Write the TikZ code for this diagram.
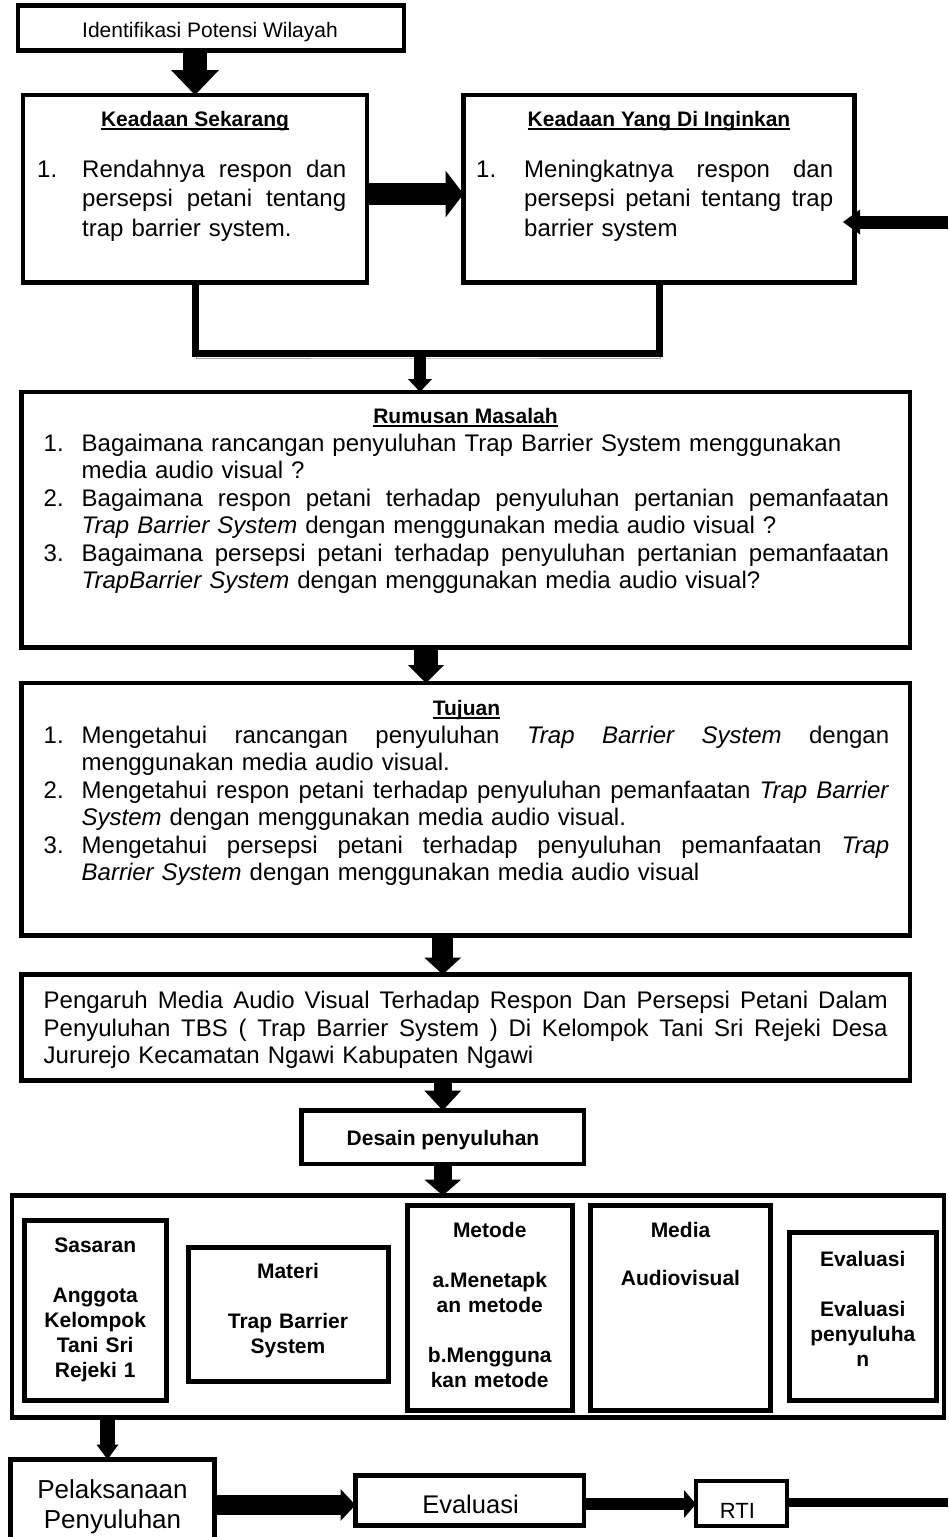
\documentclass[tikz,border=0pt]{standalone}
\usepackage{fontspec}
\setmainfont{Liberation Sans}
\usetikzlibrary{arrows.meta, positioning, calc}

\newsavebox\judulbox
\newcommand{\garisbawah}[1]{\sbox\judulbox{#1}\rlap{\rule[-3.2pt]{\wd\judulbox}{1.6pt}}\usebox\judulbox}
\newlength\numw
\newlength\lebar
% baris rata kiri-kanan (spasi antar kata diregangkan)
\newcommand{\regang}[1]{\makebox[\lebar][s]{\spaceskip=\fontdimen2\font plus 1fil\relax #1}}
\newcommand{\barisnj}[2]{\makebox[\numw][l]{#1}\regang{#2}}
\newcommand{\barisnn}[2]{\makebox[\numw][l]{#1}#2}
\newcommand{\barisj}[1]{\hspace*{\numw}\regang{#1}}
\newcommand{\barisc}[1]{\hspace*{\numw}#1}

\tikzset{
  kotak/.style = {draw, line width=4.5pt, inner sep=0pt, outer sep=0pt},
  isi/.style = {inner sep=0pt, anchor=base west, align=left, font=\fontsize{24}{27.5}\selectfont},
  kepala/.style = {inner sep=0pt, anchor=base, font=\fontsize{21}{25}\selectfont\bfseries},
  kecil/.style = {inner sep=0pt, anchor=base, align=center, text width=140pt, font=\fontsize{21}{25}\selectfont\bfseries},
  panah/.style n args = {3}{line width=#1, -{Triangle[width=#2, length=#3, line width=0pt]}},
  siku/.style = {line width=7pt, line join=miter,
    preaction={draw=black!35, transform canvas={shift={(1.5pt,-4.5pt)}}}}
}

\begin{document}
\begin{tikzpicture}[x=1pt, y=-1pt]
  \useasboundingbox (0,0) rectangle (948,1537);

  % Identifikasi dan keadaan
  \node (ident) [kotak, minimum width=386pt, minimum height=45pt] at (211,28) {};
  \node (ident-t) [inner sep=0pt, anchor=base, font=\fontsize{21}{25}\selectfont] at (210,37) {Identifikasi Potensi Wilayah};

  \node (now) [kotak, minimum width=344pt, minimum height=187.5pt] at (195,188.75) {};
  \node (now-j) [kepala] at (195,126.7) {\garisbawah{Keadaan Sekarang}};
  \node (now-isi) [isi, text width=309pt, font=\fontsize{24}{29.5}\selectfont] at (37,177) {\setlength\numw{45pt}\setlength\lebar{264pt}%
    \barisnj{1.}{Rendahnya respon dan}\\
    \barisj{persepsi petani tentang}\\
    \barisc{trap barrier system.}};

  \node (want) [kotak, minimum width=391pt, minimum height=187.5pt] at (659,188.75) {};
  \node (want-j) [kepala] at (659,126.7) {\garisbawah{Keadaan Yang Di Inginkan}};
  \node (want-isi) [isi, text width=357pt, font=\fontsize{24}{29.5}\selectfont] at (476,177) {\setlength\numw{48pt}\setlength\lebar{309pt}%
    \barisnj{1.}{Meningkatnya respon dan}\\
    \barisj{persepsi petani tentang trap}\\
    \barisc{barrier system}};

  % Rumusan masalah
  \node (rum) [kotak, minimum width=888.5pt, minimum height=255.5pt] at (465.75,519.75) {};
  \node (rum-j) [kepala] at (465.5,423.3) {\garisbawah{Rumusan Masalah}};
  \node (rum-isi) [isi, text width=845.5pt] at (43.5,451) {\setlength\numw{38pt}\setlength\lebar{807.5pt}%
    \barisnn{1.}{Bagaimana rancangan penyuluhan Trap Barrier System menggunakan}\\
    \barisc{media audio visual ?}\\
    \barisnj{2.}{Bagaimana respon petani terhadap penyuluhan pertanian pemanfaatan}\\
    \barisc{\textit{Trap Barrier System} dengan menggunakan media audio visual ?}\\
    \barisnj{3.}{Bagaimana persepsi petani terhadap penyuluhan pertanian pemanfaatan}\\
    \barisc{\textit{TrapBarrier System} dengan menggunakan media audio visual?}};

  % Tujuan
  \node (tuj) [kotak, minimum width=888.5pt, minimum height=252.5pt] at (465.75,809.25) {};
  \node (tuj-j) [kepala] at (466.5,715.5) {\garisbawah{Tujuan}};
  \node (tuj-isi) [isi, text width=845.5pt] at (43.5,743) {\setlength\numw{38pt}\setlength\lebar{807.5pt}%
    \barisnj{1.}{Mengetahui rancangan penyuluhan \textit{Trap Barrier System} dengan}\\
    \barisc{menggunakan media audio visual.}\\
    \barisnj{2.}{Mengetahui respon petani terhadap penyuluhan pemanfaatan \textit{Trap Barrier}}\\
    \barisc{\textit{System} dengan menggunakan media audio visual.}\\
    \barisnj{3.}{Mengetahui persepsi petani terhadap penyuluhan pemanfaatan \textit{Trap}}\\
    \barisc{\textit{Barrier System} dengan menggunakan media audio visual}};

  % Judul penelitian
  \node (peng) [kotak, minimum width=888.5pt, minimum height=106pt] at (465.75,1027.5) {};
  \node (peng-isi) [isi, text width=844pt] at (43.5,1008.5) {\setlength\numw{0pt}\setlength\lebar{844pt}%
    \barisj{Pengaruh Media Audio Visual Terhadap Respon Dan Persepsi Petani Dalam}\\
    \barisj{Penyuluhan TBS ( Trap Barrier System ) Di Kelompok Tani Sri Rejeki Desa}\\
    \barisc{Jururejo Kecamatan Ngawi Kabupaten Ngawi}};

  \node (desain) [kotak, minimum width=282.5pt, minimum height=53.5pt] at (442.75,1137.25) {};
  \node (desain-t) [kepala] at (443,1145) {Desain penyuluhan};

  % Komponen desain
  \node (wadah) [kotak, minimum width=932pt, minimum height=222pt] at (478,1306.5) {};
  \node (sasaran) [kotak, line width=5pt, minimum width=142.5pt, minimum height=180pt] at (95.25,1310.5) {};
  \node (sasaran-t) [kecil] at (95.25,1252) {Sasaran\\[25pt]Anggota\\Kelompok\\Tani Sri\\Rejeki 1};
  \node (materi) [kotak, line width=5pt, minimum width=200pt, minimum height=134pt] at (288,1314) {};
  \node (materi-t) [kecil] at (288,1278) {Materi\\[25pt]Trap Barrier\\System};
  \node (metode) [kotak, line width=5pt, minimum width=164.5pt, minimum height=205pt] at (489.75,1308) {};
  \node (metode-t) [kecil] at (489.75,1237) {Metode\\[25pt]a.Menetapk\\an metode\\[25pt]b.Mengguna\\kan metode};
  \node (media) [kotak, line width=5pt, minimum width=180pt, minimum height=204.5pt] at (680.5,1307.75) {};
  \node (media-t) [kecil] at (680.5,1237) {Media\\[23pt]Audiovisual};
  \node (evaluasi) [kotak, line width=5pt, minimum width=147.5pt, minimum height=168pt] at (862.75,1316.5) {};
  \node (evaluasi-t) [kecil] at (862.75,1266) {Evaluasi\\[25pt]Evaluasi\\penyuluha\\n};

  % Pelaksanaan
  \node (pel) [kotak, minimum width=204pt, minimum height=110.5pt] at (112.5,1514.75) {};
  \node (pel-t) [inner sep=0pt, anchor=base, align=center, text width=190pt, font=\fontsize{26}{30}\selectfont] at (112.5,1498) {Pelaksanaan\\Penyuluhan};
  \node (eval) [kotak, minimum width=228.5pt, minimum height=50pt] at (469.75,1500.5) {};
  \node (eval-t) [inner sep=0pt, anchor=base, font=\fontsize{25.5}{30}\selectfont] at (470.5,1513) {Evaluasi};
  \node (rti) [kotak, minimum width=91pt, minimum height=45pt] at (741.5,1503.5) {};
  \node (rti-t) [inner sep=0pt, anchor=base, font=\fontsize{22}{26}\selectfont] at (737.5,1518) {RTI};

  \coordinate (gabung) at (420,353.5);
  \coordinate (balikA) at (948,222);
  \coordinate (balikB) at (948,1502.5);

  % Connecting Nodes
  \draw[panah={24pt}{48pt}{25pt}] (ident.south -| now.north) -- (now.north);
  \draw[panah={22pt}{47pt}{18pt}] (now.east |- 0,194) -- (want.west |- 0,194);
  \draw[panah={13pt}{25pt}{17pt}] (balikA) -- ($(want.east |- balikA)+(-11.5,0)$);
  \draw[siku] (now.south) |- (gabung) -| (want.south);
  \draw[panah={12pt}{24pt}{13pt}] (gabung) -- (gabung |- rum.north);
  \draw[panah={24pt}{36pt}{18pt}] (rum.south -| 426,0) -- (tuj.north -| 426,0);
  \draw[panah={21pt}{37pt}{17pt}] (tuj.south -| desain.north) -- (peng.north -| desain.north);
  \draw[panah={18pt}{37pt}{20pt}] (peng.south -| desain.north) -- (desain.north);
  \draw[panah={18pt}{37pt}{16pt}] (desain.south) -- (wadah.north -| desain.south);
  \draw[panah={15pt}{22pt}{15pt}] (wadah.south -| 107.5,0) -- (pel.north -| 107.5,0);
  \draw[panah={20pt}{32pt}{15pt}] (pel.east |- 0,1505) -- (eval.west |- 0,1505);
  \draw[panah={12pt}{28pt}{12pt}] (eval.east |- 0,1504) -- (rti.west |- 0,1504);
  \draw[line width=9pt] (rti.east |- balikB) -- (balikB);
\end{tikzpicture}
\end{document}
